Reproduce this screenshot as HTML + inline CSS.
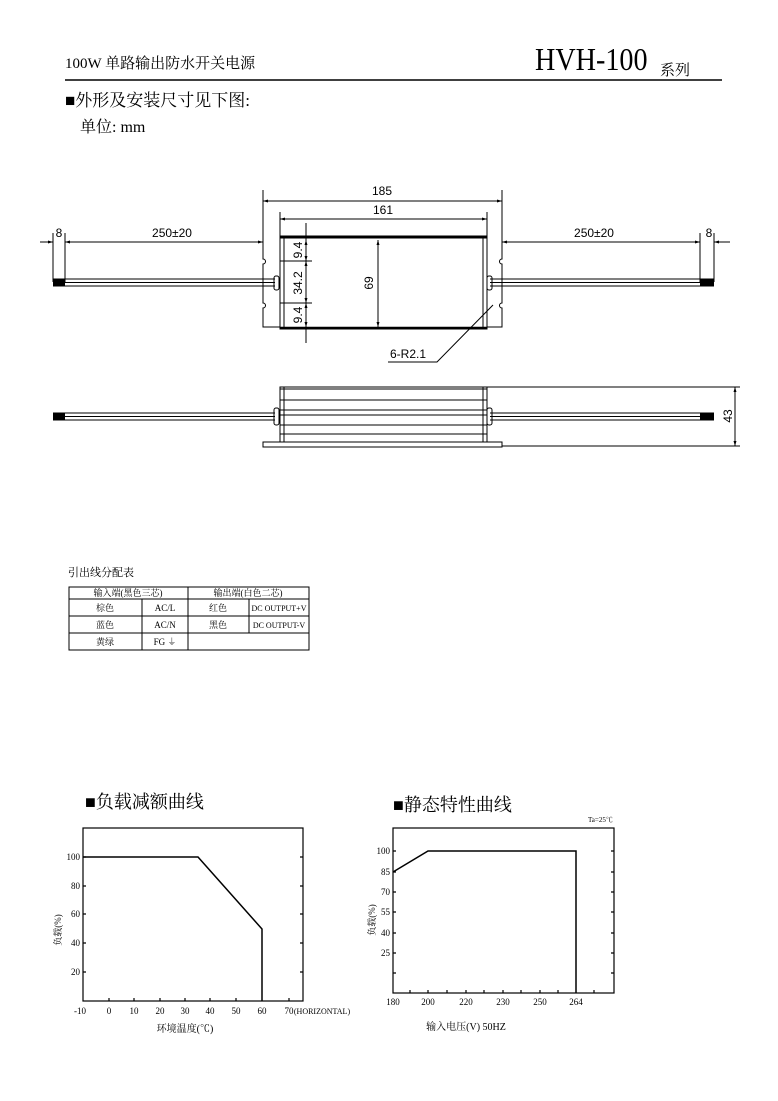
<!DOCTYPE html>
<html><head><meta charset="utf-8"><style>
html,body{margin:0;padding:0;background:#fff}
svg{display:block}
text{font-family:"Liberation Serif","Noto Serif CJK SC","Noto Sans CJK SC",serif;fill:#000}
.s{font-family:"Liberation Sans","Noto Sans CJK SC",sans-serif}
</style></head><body>
<svg width="778" height="1101" viewBox="0 0 778 1101" xmlns="http://www.w3.org/2000/svg">
<defs>
<marker id="a" viewBox="0 0 10 10" refX="10" refY="5" markerWidth="7" markerHeight="5" orient="auto-start-reverse"><path d="M0,2 L10,5 L0,8z" fill="#000"/></marker>
</defs>
<!-- header -->
<text x="65" y="68" font-size="15">100W 单路输出防水开关电源</text>
<text x="535" y="70" font-size="32" transform="translate(535,0) scale(0.88,1) translate(-535,0)">HVH-100</text>
<text x="660" y="75" font-size="15">系列</text>
<line x1="65" y1="80" x2="722" y2="80" stroke="#000" stroke-width="1.5"/>
<text x="65" y="106" font-size="17">■外形及安装尺寸见下图:</text>
<text x="80" y="132" font-size="16">单位: mm</text>

<g stroke="#000" fill="none" stroke-width="1">
<path d="M263,236 V259 a2,2 0 0 1 0,5 V303 a2,2 0 0 1 0,5 V327 H280"/>
<path d="M502,236 V259 a2,2 0 0 0 0,5 V303 a2,2 0 0 0 0,5 V327 H487"/>
<rect x="280" y="236" width="207" height="93"/>
<line x1="280" y1="237.5" x2="487" y2="237.5" stroke-width="2"/>
<line x1="280" y1="328" x2="487" y2="328" stroke-width="2.5"/>
<line x1="284" y1="236" x2="284" y2="329"/>
<line x1="483" y1="236" x2="483" y2="329"/>
<path d="M53,279 H275 M53,282.5 H275 M53,286 H275"/>
<path d="M490,279 H714 M490,282.5 H714 M490,286 H714"/>
<rect x="274" y="276" width="5" height="14" rx="2"/>
<rect x="487" y="276" width="5" height="14" rx="2"/>
<line x1="263" y1="190" x2="263" y2="236"/>
<line x1="502" y1="190" x2="502" y2="236"/>
<line x1="263" y1="201" x2="502" y2="201" marker-start="url(#a)" marker-end="url(#a)"/>
<line x1="280" y1="212" x2="280" y2="236"/>
<line x1="487" y1="212" x2="487" y2="236"/>
<line x1="280" y1="219" x2="487" y2="219" marker-start="url(#a)" marker-end="url(#a)"/>
<line x1="53" y1="233" x2="53" y2="282"/>
<line x1="65" y1="233" x2="65" y2="282"/>
<line x1="700" y1="233" x2="700" y2="282"/>
<line x1="714" y1="233" x2="714" y2="282"/>
<line x1="40" y1="242" x2="53" y2="242" marker-end="url(#a)"/>
<line x1="65" y1="242" x2="263" y2="242" marker-start="url(#a)" marker-end="url(#a)"/>
<line x1="502" y1="242" x2="700" y2="242" marker-start="url(#a)" marker-end="url(#a)"/>
<line x1="730" y1="242" x2="714" y2="242" marker-end="url(#a)"/>
<line x1="306" y1="223" x2="306" y2="343"/>
<line x1="306" y1="240" x2="306" y2="261" marker-start="url(#a)" marker-end="url(#a)"/>
<line x1="306" y1="261" x2="306" y2="303" marker-start="url(#a)" marker-end="url(#a)"/>
<line x1="306" y1="303" x2="306" y2="327" marker-start="url(#a)" marker-end="url(#a)"/>
<line x1="280" y1="261" x2="312" y2="261"/>
<line x1="280" y1="303" x2="312" y2="303"/>
<line x1="378" y1="240" x2="378" y2="327" marker-start="url(#a)" marker-end="url(#a)"/>
<polyline points="493,305 437,362 388,362"/>
<rect x="280" y="387" width="207" height="55"/>
<line x1="284" y1="387" x2="284" y2="442"/>
<line x1="483" y1="387" x2="483" y2="442"/>
<line x1="280" y1="389" x2="487" y2="389"/>
<path d="M280,400 H487 M280,410 H487 M280,415 H487 M280,425 H487 M280,434 H487"/>
<path d="M263,447 V442 H502 V447 Z"/>
<path d="M53,413 H275 M53,416.5 H275 M53,420 H275"/>
<path d="M490,413 H714 M490,416.5 H714 M490,420 H714"/>
<rect x="274" y="408" width="5" height="17" rx="2"/>
<rect x="487" y="408" width="5" height="17" rx="2"/>
<line x1="487" y1="387" x2="740" y2="387"/>
<line x1="502" y1="446" x2="740" y2="446"/>
<line x1="735" y1="387" x2="735" y2="446" marker-start="url(#a)" marker-end="url(#a)"/>
</g>
<g fill="#000">
<rect x="53" y="278.5" width="12" height="8"/>
<rect x="700" y="278.5" width="14" height="8"/>
<rect x="53" y="412.5" width="12" height="8"/>
<rect x="700" y="412.5" width="14" height="8"/>
</g>
<g>
<text class="s" x="382" y="195" text-anchor="middle" font-size="12">185</text>
<text class="s" x="383" y="214" text-anchor="middle" font-size="12">161</text>
<text class="s" x="172" y="237" text-anchor="middle" font-size="12">250±20</text>
<text class="s" x="594" y="237" text-anchor="middle" font-size="12">250±20</text>
<text class="s" x="59" y="237" text-anchor="middle" font-size="12">8</text>
<text class="s" x="709" y="237" text-anchor="middle" font-size="12">8</text>
<text class="s" x="390" y="358" font-size="12">6-R2.1</text>
<text class="s" font-size="12" text-anchor="middle" transform="translate(302,250) rotate(-90)">9.4</text>
<text class="s" font-size="12" text-anchor="middle" transform="translate(302,283) rotate(-90)">34.2</text>
<text class="s" font-size="12" text-anchor="middle" transform="translate(302,315) rotate(-90)">9.4</text>
<text class="s" font-size="12" text-anchor="middle" transform="translate(373,283) rotate(-90)">69</text>
<text class="s" font-size="12" text-anchor="middle" transform="translate(732,416) rotate(-90)">43</text>
</g>

<!-- table -->
<text x="68" y="576" font-size="11">引出线分配表</text>
<g stroke="#000" fill="none" stroke-width="1">
<rect x="69" y="587" width="240" height="63"/>
<path d="M69,599 H309 M69,616 H309 M69,633 H309"/>
<path d="M188,587 V650 M142,599 V650 M249,599 V633"/>
</g>
<g font-size="9" text-anchor="middle">
<text x="128" y="596">输入端(黑色三芯)</text>
<text x="248" y="596">输出端(白色二芯)</text>
<text x="105" y="611">棕色</text><text x="165" y="611">AC/L</text><text x="218" y="611">红色</text><text x="279" y="611" font-size="8">DC OUTPUT+V</text>
<text x="105" y="628">蓝色</text><text x="165" y="628">AC/N</text><text x="218" y="628">黑色</text><text x="279" y="628" font-size="8">DC OUTPUT-V</text>
<text x="105" y="645">黄绿</text><text x="165" y="645">FG ⏚</text>
</g>

<!-- chart 1 -->
<text x="85" y="808" font-size="18">■负载减额曲线</text>
<g stroke="#000" fill="none" stroke-width="1.2">
<rect x="83" y="828" width="220" height="173"/>
<polyline points="83,857 198,857 262,929 262,1001" stroke-width="1.5"/>
<path d="M83,857 h3 M83,886 h3 M83,914 h3 M83,943 h3 M83,972 h3 M303,857 h-3 M303,886 h-3 M303,914 h-3 M303,943 h-3 M303,972 h-3
M109,1001 v-3 M134,1001 v-3 M160,1001 v-3 M185,1001 v-3 M210,1001 v-3 M236,1001 v-3 M289,1001 v-3"/>
</g>
<g font-size="9" text-anchor="end">
<text x="80" y="860">100</text><text x="80" y="889">80</text><text x="80" y="917">60</text><text x="80" y="946">40</text><text x="80" y="975">20</text>
</g>
<g font-size="9" text-anchor="middle">
<text x="80" y="1014">-10</text><text x="109" y="1014">0</text><text x="134" y="1014">10</text><text x="160" y="1014">20</text><text x="185" y="1014">30</text><text x="210" y="1014">40</text><text x="236" y="1014">50</text><text x="262" y="1014">60</text><text x="289" y="1014">70</text>
<text x="322" y="1014" font-size="8">(HORIZONTAL)</text>
<text x="185" y="1032" font-size="10">环境温度(℃)</text>
<text transform="translate(61,930) rotate(-90)">负载(%)</text>
</g>

<!-- chart 2 -->
<text x="393" y="811" font-size="18">■静态特性曲线</text>
<text x="588" y="822" font-size="7">Ta=25℃</text>
<g stroke="#000" fill="none" stroke-width="1.2">
<rect x="393" y="828" width="221" height="165"/>
<polyline points="393,872 428,851 576,851 576,993" stroke-width="1.5"/>
<path d="M393,851 h3 M393,872 h3 M393,892 h3 M393,912 h3 M393,933 h3 M393,953 h3 M393,973 h3 M614,851 h-3 M614,872 h-3 M614,892 h-3 M614,912 h-3 M614,933 h-3 M614,953 h-3 M614,973 h-3
M410,993 v-3 M428,993 v-3 M447,993 v-3 M466,993 v-3 M484,993 v-3 M503,993 v-3 M521,993 v-3 M540,993 v-3 M558,993 v-3 M594,993 v-3"/>
</g>
<g font-size="9" text-anchor="end">
<text x="390" y="854">100</text><text x="390" y="875">85</text><text x="390" y="895">70</text><text x="390" y="915">55</text><text x="390" y="936">40</text><text x="390" y="956">25</text>
</g>
<g font-size="9" text-anchor="middle">
<text x="393" y="1005">180</text><text x="428" y="1005">200</text><text x="466" y="1005">220</text><text x="503" y="1005">230</text><text x="540" y="1005">250</text><text x="576" y="1005">264</text>
<text x="466" y="1030" font-size="10">输入电压(V) 50HZ</text>
<text transform="translate(375,920) rotate(-90)">负载(%)</text>
</g>
</svg>
</body></html>
